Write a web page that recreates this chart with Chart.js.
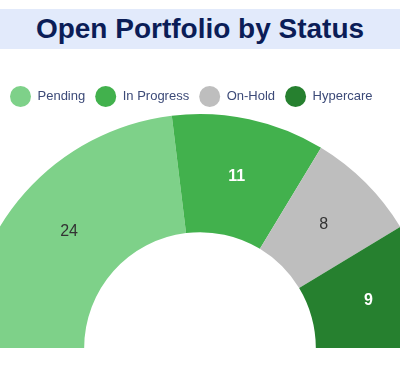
<!DOCTYPE html>
<html>
<head>
<meta charset="utf-8">
<script src="https://cdn.jsdelivr.net/npm/chart.js@4"></script>
<style>
	body { margin: 0; background: #fff; }
	#wrap { position: relative; width: 400px; height: 369px; overflow: hidden; }
	#title {
		position: absolute; left: 0; top: 9px; width: 400px; height: 40px;
		background: #e2eafb; color: #0b1d57;
		font: bold 28px "Liberation Sans", Arial, sans-serif;
		line-height: 40px; text-align: center;
	}
	#chartBox { position: absolute; left: 0; top: 0; width: 400px; height: 369px; }
</style>
</head>
<body>
<div id="wrap">
	<div id="title">Open Portfolio by Status</div>
	<div id="chartBox"><canvas id="statusChart"></canvas></div>
</div>
<script>
const statusLabels = ['Pending', 'In Progress', 'On-Hold', 'Hypercare'];
const statusCounts = [24, 11, 8, 9];
const statusColors = ['#7ed189', '#42b14d', '#bebebe', '#26802f'];
const labelColors = ['#333333', '#ffffff', '#333333', '#ffffff'];

// draws the count in the middle of each slice (white ones are bold)
const sliceLabels = {
	id: 'sliceLabels',
	afterDatasetsDraw(chart) {
		const { ctx } = chart;
		const meta = chart.getDatasetMeta(0);
		ctx.save();
		ctx.textAlign = 'center';
		ctx.textBaseline = 'middle';
		meta.data.forEach((arc, i) => {
			const { x, y } = arc.tooltipPosition();
			const isWhite = labelColors[i] === '#ffffff';
			ctx.font = (isWhite ? 'bold ' : '') + '16px "Liberation Sans", Arial, sans-serif';
			ctx.fillStyle = labelColors[i];
			ctx.fillText(String(statusCounts[i]), x, y);
		});
		ctx.restore();
	},
};

new Chart(document.getElementById('statusChart'), {
	type: 'doughnut',
	data: {
		labels: statusLabels,
		datasets: [
			{
				data: statusCounts,
				backgroundColor: statusColors,
				borderWidth: 0,
				clip: false,
			},
		],
	},
	options: {
		responsive: true,
		maintainAspectRatio: false,
		animation: false,
		rotation: -90,
		circumference: 180,
		cutout: '49.5%',
		radius: 234,
		layout: { padding: { top: 76, bottom: 24, left: 0, right: 0 } },
		plugins: {
			tooltip: { enabled: false },
			legend: {
				position: 'top',
				align: 'start',
				labels: {
					boxWidth: 21,
					boxHeight: 21,
					padding: 10,
					useBorderRadius: true,
					borderRadius: 10.5,
					color: '#3c4a78',
					font: { family: '"Liberation Sans", Arial, sans-serif', size: 13 },
					generateLabels: () =>
						statusLabels.map((text, i) => ({
							text,
							fillStyle: statusColors[i],
							strokeStyle: statusColors[i],
							lineWidth: 0,
							borderRadius: 10.5,
							fontColor: '#3c4a78',
							hidden: false,
							index: i,
						})),
				},
			},
		},
	},
	plugins: [sliceLabels],
});
</script>
</body>
</html>
